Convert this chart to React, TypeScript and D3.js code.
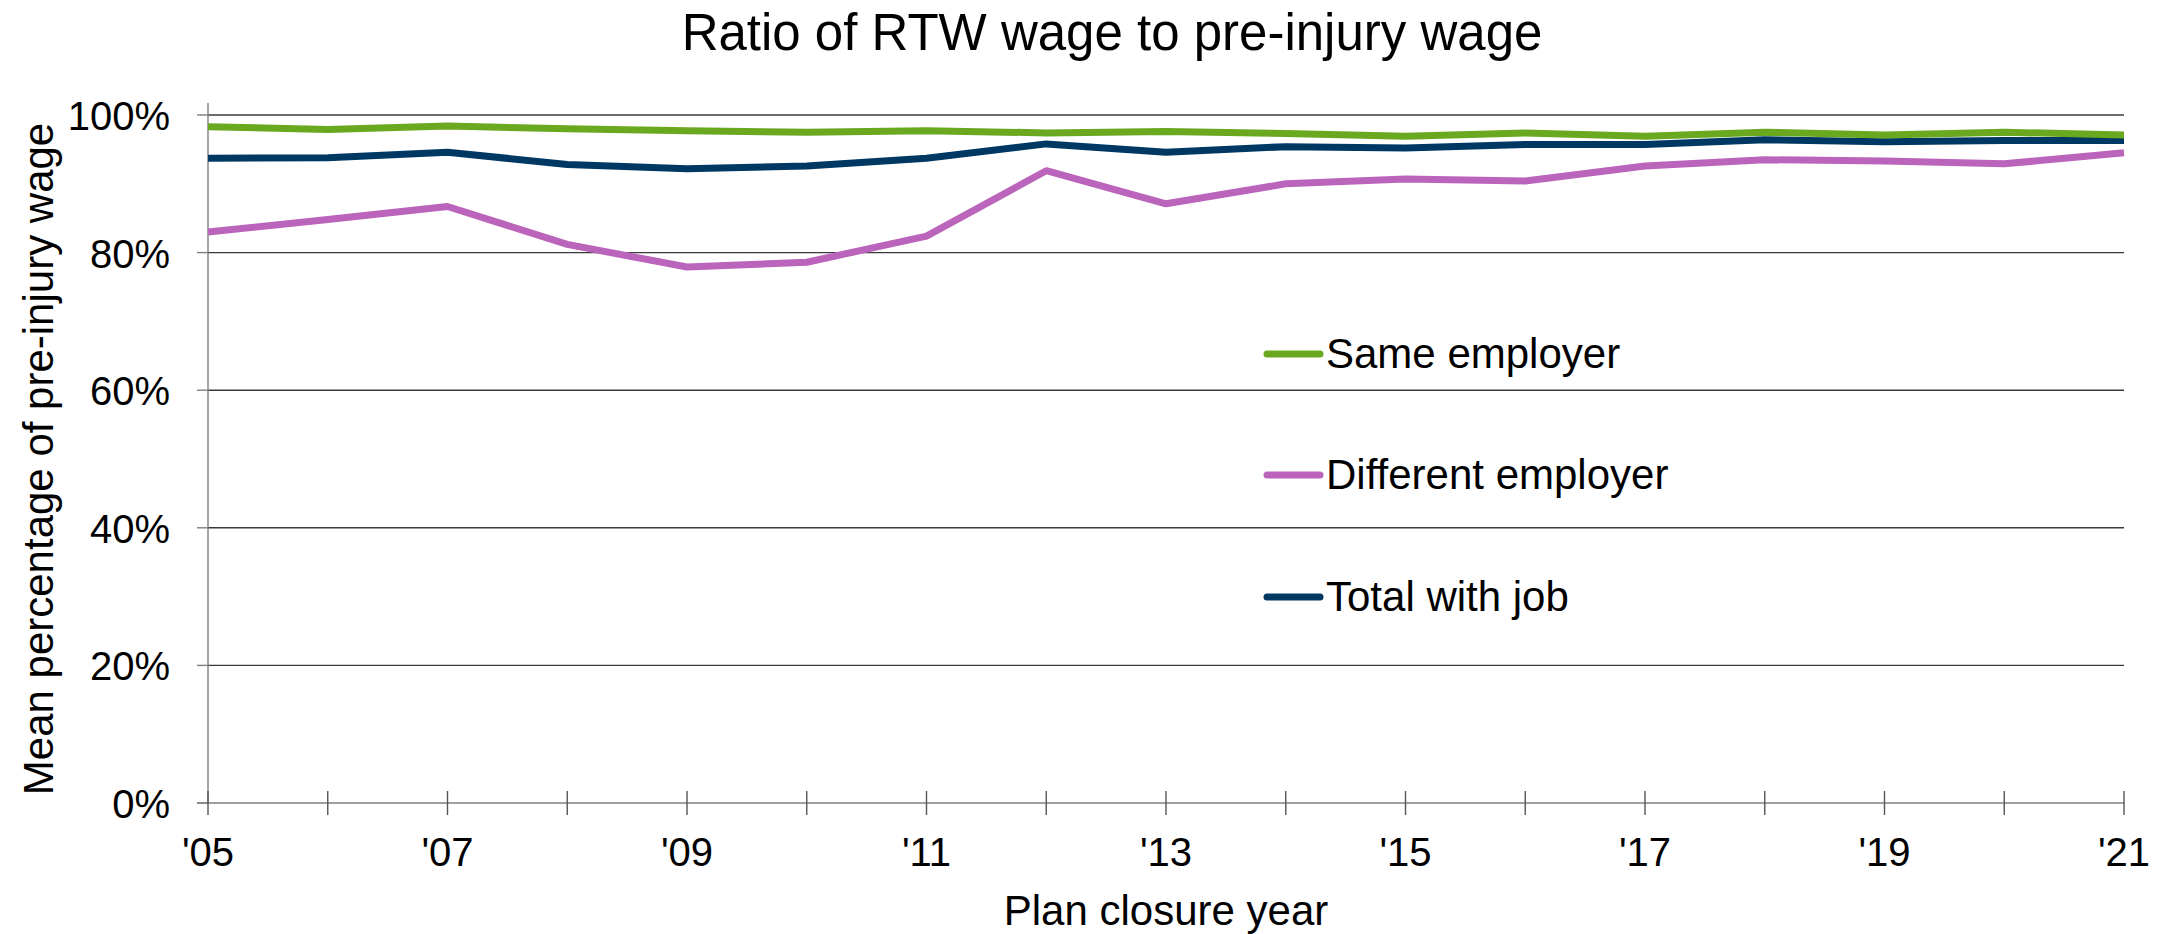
import React from "react";
import * as d3 from "d3";

const years = [2005, 2006, 2007, 2008, 2009, 2010, 2011, 2012, 2013, 2014, 2015, 2016, 2017, 2018, 2019, 2020, 2021];
const sameEmployer = [98.3, 97.9, 98.4, 98.0, 97.7, 97.5, 97.7, 97.4, 97.6, 97.3, 96.9, 97.4, 96.9, 97.5, 97.1, 97.5, 97.1];
const differentEmployer = [83.0, 84.8, 86.7, 81.2, 77.9, 78.6, 82.4, 91.9, 87.1, 90.0, 90.7, 90.4, 92.6, 93.5, 93.3, 92.9, 94.5];
const totalWithJob = [93.7, 93.8, 94.6, 92.8, 92.2, 92.6, 93.7, 95.8, 94.6, 95.4, 95.2, 95.7, 95.7, 96.4, 96.1, 96.3, 96.3];
const yTicks = [0, 20, 40, 60, 80, 100];
const xLabelYears = [2005, 2007, 2009, 2011, 2013, 2015, 2017, 2019, 2021];
const seriesNames = ["Same employer", "Different employer", "Total with job"];
const title = "Ratio of RTW wage to pre-injury wage";
const xTitle = "Plan closure year";
const yTitle = "Mean percentage of pre-injury wage";

const W = 2167;
const H = 934;
const M = { left: 208, right: 2124, top: 115, bottom: 803 };
const COLORS = ["#6aa81f", "#bb64bb", "#003864"];
const FONT = "'Liberation Sans', Arial, sans-serif";

export default function App() {
  React.useEffect(() => {
    document.body.style.margin = "0";
  }, []);
  const x = d3.scaleLinear().domain([2005, 2021]).range([M.left, M.right]);
  const y = d3.scaleLinear().domain([0, 100]).range([M.bottom, M.top]);
  const line = d3
    .line<number>()
    .x((_, i) => x(years[i]))
    .y((v) => y(v));
  const series = [sameEmployer, differentEmployer, totalWithJob];
  const drawOrder = [1, 2, 0];
  const legendY = [354, 475, 597];

  return (
    <svg
      width={W}
      height={H}
      style={{ position: "absolute", left: 0, top: 0, display: "block" }}
      fontFamily={FONT}
    >
      <rect width={W} height={H} fill="#ffffff" />
      <text x={1112} y={50} fontSize={51} textAnchor="middle" fill="#000">
        {title}
      </text>
      {yTicks.filter((t) => t > 0).map((t) => (
        <line key={t} x1={M.left} x2={M.right} y1={y(t)} y2={y(t)} stroke="#3a3a3a" strokeWidth={1.4} />
      ))}
      {yTicks.map((t) => (
        <g key={"yt" + t}>
          <line x1={M.left - 11} x2={M.left} y1={y(t)} y2={y(t)} stroke="#7f7f7f" strokeWidth={1.4} />
          <text x={170} y={y(t) + 15} fontSize={40} textAnchor="end" fill="#000">
            {t + "%"}
          </text>
        </g>
      ))}
      <line x1={M.left} x2={M.left} y1={M.top - 12} y2={M.bottom} stroke="#7f7f7f" strokeWidth={1.4} />
      <line x1={M.left - 11} x2={M.right} y1={M.bottom} y2={M.bottom} stroke="#7f7f7f" strokeWidth={1.4} />
      {years.map((yr) => (
        <line key={"xt" + yr} x1={x(yr)} x2={x(yr)} y1={M.bottom - 12} y2={M.bottom + 12} stroke="#555" strokeWidth={1.4} />
      ))}
      {xLabelYears.map((yr) => (
        <text key={"xl" + yr} x={x(yr)} y={866} fontSize={40} textAnchor="middle" fill="#000">
          {"'" + String(yr).slice(2)}
        </text>
      ))}
      {drawOrder.map((i) => (
        <path
          key={"s" + i}
          d={line(series[i]) || ""}
          fill="none"
          stroke={COLORS[i]}
          strokeWidth={7}
          strokeLinejoin="round"
        />
      ))}
      {seriesNames.map((n, i) => (
        <g key={n}>
          <line x1={1267} x2={1320} y1={legendY[i]} y2={legendY[i]} stroke={COLORS[i]} strokeWidth={7} strokeLinecap="round" />
          <text x={1326} y={legendY[i] + 14} fontSize={42} fill="#000">
            {n}
          </text>
        </g>
      ))}
      <text x={1166} y={925} fontSize={42} textAnchor="middle" fill="#000">
        {xTitle}
      </text>
      <text
        transform={`translate(53, ${(M.top + M.bottom) / 2}) rotate(-90)`}
        fontSize={42}
        textAnchor="middle"
        fill="#000"
      >
        {yTitle}
      </text>
    </svg>
  );
}
